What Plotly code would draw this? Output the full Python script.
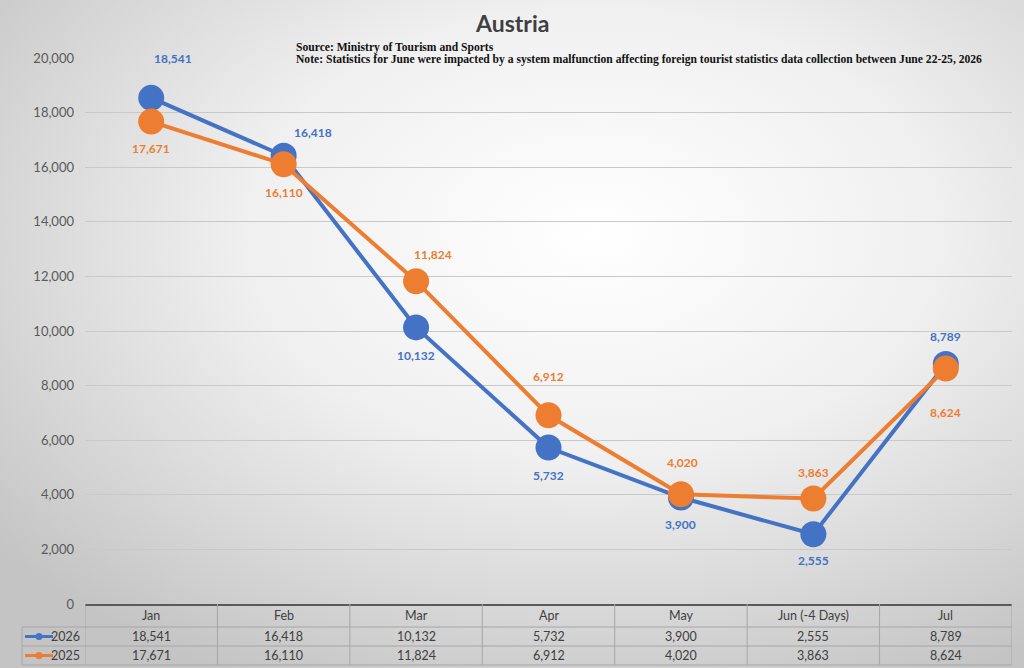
import base64
import plotly.graph_objects as go

# data
months = ['Jan', 'Feb', 'Mar', 'Apr', 'May', 'Jun (-4 Days)', 'Jul']
visitors_2026 = [18541, 16418, 10132, 5732, 3900, 2555, 8789]
visitors_2025 = [17671, 16110, 11824, 6912, 4020, 3863, 8624]
y_ticks = [0, 2000, 4000, 6000, 8000, 10000, 12000, 14000, 16000, 18000, 20000]

title_text = 'Austria'
source_text = 'Source: Ministry of Tourism and Sports'
note_text = ('Note: Statistics for June were impacted by a system malfunction affecting '
             'foreign tourist statistics data collection between June 22-25, 2026')

colors = {
    'blue': '#4472c4',
    'orange': '#ed7d31',
    'text': '#404040',
    'tick': '#595959',
    'grid': '#c9c9c9',
    'table': '#a6a6a6',
}

# label offsets in px (xshift, yshift), like excel's data label placement
shift_2026 = [(22, 39), (29, 23), (0, -28), (0, -28), (0, -27), (0, -26), (0, 28)]
shift_2025 = [(0, -27), (0, -28), (17, 27), (0, 39), (2, 32), (0, 26), (0, -44)]

W, H = 1024, 668
L, R, T, B = 85, 12, 58, 64
pw, ph = W - L - R, H - T - B


def py(px_y):
    # pixel row -> paper y
    return (H - B - px_y) / ph


def px(px_x):
    return (px_x - L) / pw


# gradient background as svg
svg = ('<svg xmlns="http://www.w3.org/2000/svg" width="1024" height="668">'
       '<defs><radialGradient id="g" cx="0.58" cy="0.35" r="0.75">'
       '<stop offset="0" stop-color="#ffffff"/>'
       '<stop offset="0.45" stop-color="#f0f0f0"/>'
       '<stop offset="1" stop-color="#c4c4c4"/>'
       '</radialGradient></defs>'
       '<rect width="1024" height="668" fill="url(#g)"/></svg>')
bg_src = 'data:image/svg+xml;base64,' + base64.b64encode(svg.encode()).decode()

fig = go.Figure()
for name, vals, col in [('2026', visitors_2026, colors['blue']),
                        ('2025', visitors_2025, colors['orange'])]:
    fig.add_trace(go.Scatter(
        x=list(range(len(months))), y=vals, name=name,
        mode='lines+markers',
        line=dict(color=col, width=4),
        marker=dict(color=col, size=26),
        showlegend=False,
    ))

annotations = []
for vals, shifts, col in [(visitors_2026, shift_2026, colors['blue']),
                          (visitors_2025, shift_2025, colors['orange'])]:
    for i, v in enumerate(vals):
        annotations.append(dict(
            x=i, y=v, xref='x', yref='y', text=f'{v:,}', showarrow=False,
            xshift=shifts[i][0], yshift=shifts[i][1],
            font=dict(family='Lato', size=12, color=col, weight='bold'),
        ))

# title and notes
annotations.append(dict(
    x=px(512), y=py(23), xref='paper', yref='paper', text=title_text, showarrow=False,
    xanchor='center', yanchor='middle',
    font=dict(family='Lato', size=23, color=colors['text'], weight='bold'),
))
for txt, row in [(source_text, 47), (note_text, 60)]:
    annotations.append(dict(
        x=px(294), y=py(row), xref='paper', yref='paper', text=txt, showarrow=False,
        xanchor='left', yanchor='middle',
        font=dict(family='Liberation Serif', size=11.6, color='#111111', weight='bold'),
    ))

# data table under the axis
tfont = dict(family='Lato', size=12.5, color=colors['text'])
row_head, row_a, row_b = py(615.5), py(636.5), py(655.5)
for i, m in enumerate(months):
    for row, txt in [(row_head, m), (row_a, f'{visitors_2026[i]:,}'), (row_b, f'{visitors_2025[i]:,}')]:
        annotations.append(dict(x=i, y=row, xref='x', yref='paper', text=txt, showarrow=False,
                                xanchor='center', yanchor='middle', font=tfont))

shapes = []
tl = dict(color=colors['table'], width=1)
for y in [py(627), py(646), py(665)]:
    shapes.append(dict(type='line', xref='paper', yref='paper', x0=px(22), x1=1, y0=y, y1=y, line=tl))
for k in range(len(months) + 1):
    shapes.append(dict(type='line', xref='x', yref='paper', x0=k - 0.5, x1=k - 0.5,
                       y0=0, y1=py(665), line=tl))
shapes.append(dict(type='line', xref='paper', yref='paper', x0=px(22), x1=px(22),
                   y0=py(627), y1=py(665), line=tl))

# legend keys inside the table
for name, col, row in [('2026', colors['blue'], row_a), ('2025', colors['orange'], row_b)]:
    shapes.append(dict(type='line', xref='paper', yref='paper', x0=px(25), x1=px(53),
                       y0=row, y1=row, line=dict(color=col, width=3)))
    shapes.append(dict(type='circle', xref='paper', yref='paper', x0=px(35.5), x1=px(42.5),
                       y0=row - 3.5 / ph, y1=row + 3.5 / ph, fillcolor=col, line=dict(color=col, width=0)))
    annotations.append(dict(x=px(82), y=row, xref='paper', yref='paper', text=name, showarrow=False,
                            xanchor='right', yanchor='middle', font=tfont))

fig.update_layout(
    width=W, height=H,
    margin=dict(l=L, r=R, t=T, b=B),
    paper_bgcolor='#d4d4d4',
    plot_bgcolor='rgba(0,0,0,0)',
    xaxis=dict(range=[-0.5, 6.5], showticklabels=False, showgrid=False, zeroline=False,
               showline=True, linecolor='#5a5a5a', linewidth=2, fixedrange=True),
    yaxis=dict(range=[0, 20000], tickvals=y_ticks, tickformat=',', showgrid=True,
               gridcolor=colors['grid'], gridwidth=1, zeroline=False, ticks='',
               ticklabelstandoff=10,
               tickfont=dict(family='Lato', size=13, color=colors['tick']), fixedrange=True),
    images=[dict(source=bg_src, xref='paper', yref='paper', x=px(0), y=py(0),
                 sizex=W / pw, sizey=H / ph, xanchor='left', yanchor='top',
                 sizing='stretch', layer='below')],
    annotations=annotations,
    shapes=shapes,
)

fig.write_html('out.html', config={'displayModeBar': False},
               post_script="document.body.style.margin='0';")
